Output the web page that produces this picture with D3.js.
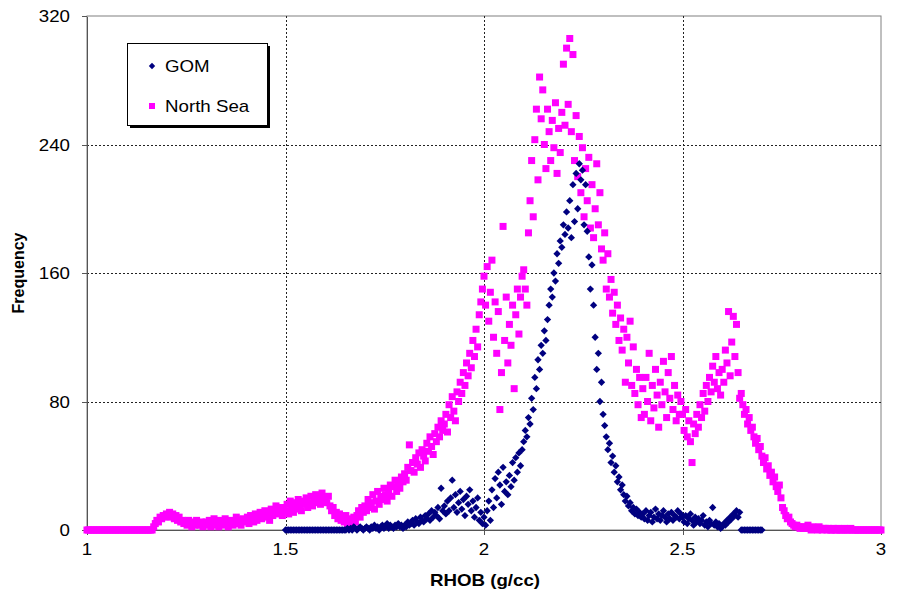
<!DOCTYPE html>
<html>
<head>
<meta charset="utf-8">
<script src="https://cdn.jsdelivr.net/npm/d3@7"></script>
<style>
  body { margin: 0; background: #fff; }
  text { font-family: Arial, "Liberation Sans", sans-serif; fill: #000; }
</style>
</head>
<body>
<svg id="chart" width="898" height="605"></svg>
<script>
// Histogram bins of bulk density (RHOB), bin width 0.004 g/cc
const binWidth = 0.004;

// North Sea frequencies, bins starting at 1.000 g/cc (one row per 0.1 g/cc)
const northSeaStart = 1.0;
const northSea = [
  0,0,0,0,0,0,0,0,0,0,0,0,0,0,0,0,0,0,0,0,0,0,0,0,0,
  0,0,0,0,0,0,0,0,0,0,0,0,0,0,0,0,0,2,4,6,5,8,7,9,8,
  10,9,11,8,10,7,9,6,8,5,6,4,5,3,6,4,2,5,3,6,4,3,5,2,4,
  5,3,6,2,4,7,3,5,2,6,4,3,7,5,2,4,6,3,5,8,4,6,3,7,5,
  6,8,4,9,7,5,10,6,8,11,7,9,12,8,10,6,13,9,11,15,10,12,14,9,13,
  12,16,10,18,14,11,17,13,19,15,12,18,16,20,14,17,21,15,19,22,17,20,16,23,18,
  20,17,21,15,12,14,9,11,7,10,6,8,5,9,4,7,3,6,8,5,9,12,8,14,11,
  15,12,19,14,17,22,13,18,24,16,21,19,26,22,18,25,28,21,27,31,24,29,26,33,30,
  35,31,39,53,37,42,36,45,41,48,39,50,46,43,54,49,58,52,47,60,55,64,58,68,62,
  66,72,61,78,70,83,74,68,86,80,92,85,98,90,104,96,110,101,118,108,125,114,134,142,150,
  158,140,164,130,148,168,120,142,110,136,75,98,189,118,145,104,128,115,140,88,134,150,122,145,158,
  162,150,140,185,205,230,195,243,262,218,282,256,274,240,225,262,248,230,255,238,266,222,250,235,260,
  290,252,300,265,306,248,296,230,258,220,245,210,238,195,225,205,232,188,215,182,200,228,190,210,175,
  168,185,150,172,145,156,135,148,128,140,118,132,112,125,92,120,104,130,90,114,85,100,78,95,70,
  88,72,95,80,110,68,90,76,100,84,64,92,78,105,86,70,98,82,108,75,90,68,84,72,80,
  72,62,75,58,68,55,42,66,60,72,64,78,70,85,74,90,80,95,86,102,92,108,88,98,84,
  100,92,112,104,136,96,117,133,108,128,98,82,85,78,72,75,66,70,62,64,58,54,57,50,52,
  46,42,45,38,40,34,36,30,33,27,24,28,20,14,12,9,7,8,5,4,3,2,3,2,1,
  2,1,2,1,3,1,0,2,1,1,0,2,1,0,1,1,0,1,0,0,1,0,0,1,0,
  0,0,1,0,0,0,1,0,0,0,0,0,0,0,0,0,0,0,0,0,0,0,0,0,0,
  0
];

// Gulf of Mexico frequencies, bins starting at 1.500 g/cc
const gomStart = 1.5;
const gom = [
  0,0,0,0,0,0,0,0,0,0,0,0,0,0,0,0,0,0,0,0,0,0,0,0,0,
  0,0,0,0,0,0,0,0,0,0,0,0,0,0,1,0,1,0,2,1,0,1,2,1,0,
  1,2,1,0,2,1,3,1,2,0,2,3,1,2,4,1,3,2,1,3,2,4,2,3,1,
  3,2,5,3,4,6,3,7,5,4,8,6,5,9,7,10,6,12,8,11,9,14,7,26,12,
  15,10,18,12,20,31,14,22,11,17,24,13,19,9,21,16,25,12,18,8,14,20,6,11,4,
  8,3,12,18,6,25,14,32,20,36,28,16,39,24,30,22,34,27,42,31,45,36,48,40,50,
  55,62,58,70,66,82,75,95,88,106,100,115,110,124,118,131,140,150,145,160,155,172,166,180,176,
  190,184,198,188,205,182,215,192,222,200,228,218,224,190,215,186,170,150,165,140,120,100,110,80,92,
  72,65,58,50,54,42,46,36,40,30,33,25,28,22,18,21,15,17,12,14,10,13,9,11,8,
  10,7,12,6,9,11,5,8,13,7,10,6,9,12,8,5,10,7,11,6,9,8,12,7,10,
  8,5,9,4,7,10,6,3,8,5,7,4,6,9,3,5,2,6,4,14,3,5,2,4,1,
  2,4,3,6,5,8,7,10,9,12,8,11,0,0,0,0,0,0,0,0,0,0,0,0,0,
  0
];

const xTicks = [1, 1.5, 2, 2.5, 3];
const yTicks = [0, 80, 160, 240, 320];
const seriesNames = ["GOM", "North Sea"];
const xTitle = "RHOB (g/cc)";
const yTitle = "Frequency";

// ---- layout ----
const plot = { left: 87, right: 881, top: 16, bottom: 530 };
const stretch = 1.17;          // wide face used for all labels
const fontSize = 16;
const sq = 7;                  // square marker side

const svg = d3.select("#chart");
const x = d3.scaleLinear().domain([1, 3]).range([plot.left, plot.right]);
const y = d3.scaleLinear().domain([0, 320]).range([plot.bottom, plot.top]);

const toPoints = (start, vals) => vals.map((v, i) => ({ rhob: start + i * binWidth, f: v }));
const nsPts = toPoints(northSeaStart, northSea);
const gomPts = toPoints(gomStart, gom);

function label(g, px, py, str, anchor, bold, rotate) {
  const t = g.append("g")
    .attr("transform", `translate(${px},${py})` + (rotate ? ` rotate(${rotate})` : "") + ` scale(${rotate ? 1 : stretch},1)`)
    .append("text")
    .attr("text-anchor", anchor)
    .style("font-size", fontSize + "px")
    .text(str);
  if (bold) t.style("font-weight", "bold");
  return t;
}

// plot frame
svg.append("rect")
  .attr("x", plot.left).attr("y", plot.top)
  .attr("width", plot.right - plot.left).attr("height", plot.bottom - plot.top)
  .attr("fill", "#fff").attr("stroke", "#808080").attr("stroke-width", 1);

// dotted grid
const grid = svg.append("g").attr("stroke", "#222").attr("stroke-width", 1).attr("stroke-dasharray", "2,2");
grid.selectAll("line.h").data(yTicks.filter(v => v > 0 && v < 320)).join("line")
  .attr("x1", plot.left).attr("x2", plot.right)
  .attr("y1", d => Math.round(y(d)) + 0.5).attr("y2", d => Math.round(y(d)) + 0.5);
grid.selectAll("line.v").data(xTicks.filter(v => v > 1 && v < 3)).join("line")
  .attr("y1", plot.top).attr("y2", plot.bottom)
  .attr("x1", d => Math.round(x(d)) + 0.5).attr("x2", d => Math.round(x(d)) + 0.5);

// axes
const yAxis = svg.append("g").attr("transform", `translate(${plot.left},0)`)
  .call(d3.axisLeft(y).tickValues(yTicks).tickSize(5).tickSizeOuter(0).tickFormat(""));
const xAxis = svg.append("g").attr("transform", `translate(0,${plot.bottom})`)
  .call(d3.axisBottom(x).tickValues(xTicks).tickSize(5).tickSizeOuter(0).tickFormat(""));
[yAxis, xAxis].forEach(a => {
  a.selectAll("path, line").attr("stroke", "#555").attr("shape-rendering", "crispEdges");
});

const labels = svg.append("g");
yTicks.forEach(v => label(labels, 70, y(v) + 6, d3.format("d")(v), "end", false));
xTicks.forEach(v => label(labels, x(v), 555, String(v), "middle", false));
label(labels, 485, 586, xTitle, "middle", true);
label(labels, 24, (plot.top + plot.bottom) / 2, yTitle, "middle", true, -90);

// markers
const marks = svg.append("g");
marks.selectAll("rect.ns").data(nsPts).join("rect")
  .attr("class", "ns")
  .attr("x", d => x(d.rhob) - sq / 2).attr("y", d => y(d.f) - sq / 2)
  .attr("width", sq).attr("height", sq)
  .attr("fill", "#ff00ff");

const diamond = d3.symbol().type(d3.symbolDiamond2).size(34);
marks.selectAll("path.gom").data(gomPts).join("path")
  .attr("class", "gom")
  .attr("transform", d => `translate(${x(d.rhob)},${y(d.f)})`)
  .attr("d", diamond)
  .attr("fill", "#000080");

// legend
const lg = svg.append("g");
lg.append("rect").attr("x", 130).attr("y", 46).attr("width", 140).attr("height", 82).attr("fill", "#000");
lg.append("rect").attr("x", 127.5).attr("y", 43.5).attr("width", 140).attr("height", 82)
  .attr("fill", "#fff").attr("stroke", "#000").attr("stroke-width", 1);
lg.append("path").attr("transform", "translate(152,66)").attr("d", d3.symbol().type(d3.symbolDiamond2).size(26)).attr("fill", "#000080");
lg.append("rect").attr("x", 149).attr("y", 103).attr("width", 6).attr("height", 6).attr("fill", "#ff00ff");
label(lg, 165, 72, seriesNames[0], "start", false);
label(lg, 165, 112, seriesNames[1], "start", false);
</script>
</body>
</html>
